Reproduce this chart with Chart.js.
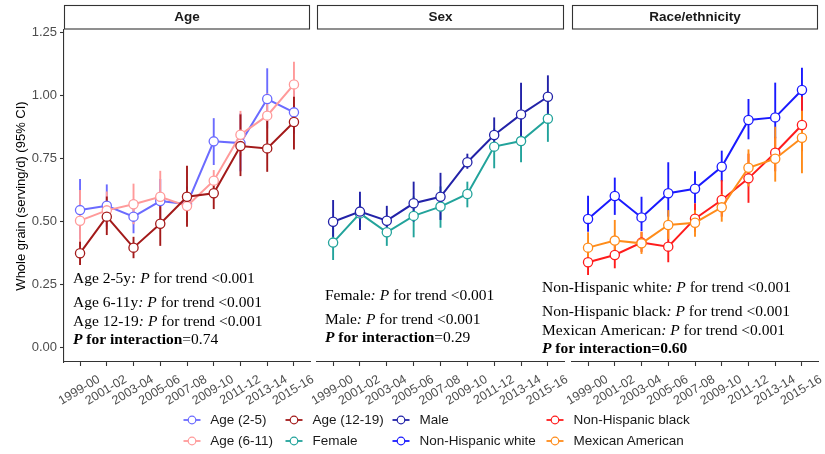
<!DOCTYPE html>
<html>
<head>
<meta charset="utf-8">
<script src="https://cdn.jsdelivr.net/npm/chart.js@4/dist/chart.umd.min.js"></script>
<style>
  html, body { margin: 0; padding: 0; background: #fff; }
  #wrap { position: relative; width: 825px; height: 454px; overflow: hidden; background: #fff; }
  #wrap canvas { position: absolute; left: 0; top: 0; }
  .lg { position: absolute; font: 13.5px "Liberation Sans", Arial, sans-serif; color: #1a1a1a;
        white-space: nowrap; line-height: 16px; height: 16px; }
  .sym { position: absolute; }
</style>
</head>
<body>
<div id="wrap">
  <canvas id="c1" width="825" height="454"></canvas>
  <canvas id="c2" width="825" height="454"></canvas>
  <canvas id="c3" width="825" height="454"></canvas>
  <div id="legend"></div>
</div>
<script>
// Survey cycles (x axis) and y axis ticks
const periods = ['1999-00', '2001-02', '2003-04', '2005-06', '2007-08', '2009-10', '2011-12', '2013-14', '2015-16'];
const yTicks = [0, 0.25, 0.5, 0.75, 1.0, 1.25];

// Whole grain intake, serving/d, with 95% CI — by age
const age2to5   = [0.546, 0.563, 0.520, 0.582, 0.570, 0.819, 0.812, 0.987, 0.934];
const age2to5Lo = [0.430, 0.480, 0.454, 0.490, 0.500, 0.725, 0.700, 0.870, 0.850];
const age2to5Hi = [0.669, 0.648, 0.590, 0.670, 0.640, 0.911, 0.930, 1.109, 1.020];

const age6to11   = [0.504, 0.545, 0.569, 0.599, 0.562, 0.663, 0.845, 0.921, 1.045];
const age6to11Lo = [0.400, 0.470, 0.490, 0.500, 0.500, 0.620, 0.760, 0.820, 0.960];
const age6to11Hi = [0.626, 0.620, 0.651, 0.702, 0.630, 0.705, 0.940, 1.010, 1.135];

const age12to19   = [0.375, 0.520, 0.397, 0.492, 0.599, 0.613, 0.800, 0.791, 0.896];
const age12to19Lo = [0.328, 0.447, 0.355, 0.404, 0.480, 0.550, 0.681, 0.698, 0.787];
const age12to19Hi = [0.420, 0.600, 0.440, 0.580, 0.722, 0.660, 0.926, 0.900, 0.996];

// By sex
const female   = [0.417, 0.533, 0.458, 0.523, 0.560, 0.610, 0.798, 0.820, 0.909];
const femaleLo = [0.348, 0.480, 0.404, 0.438, 0.476, 0.557, 0.712, 0.736, 0.817];
const femaleHi = [0.480, 0.580, 0.510, 0.600, 0.640, 0.659, 0.870, 0.900, 0.990];

const male   = [0.500, 0.540, 0.504, 0.573, 0.599, 0.736, 0.844, 0.926, 0.996];
const maleLo = [0.440, 0.467, 0.450, 0.500, 0.507, 0.710, 0.780, 0.800, 0.920];
const maleHi = [0.586, 0.619, 0.563, 0.659, 0.694, 0.770, 0.914, 1.052, 1.081];

// By race/ethnicity
const nhWhite   = [0.511, 0.602, 0.517, 0.613, 0.631, 0.718, 0.904, 0.914, 1.023];
const nhWhiteLo = [0.460, 0.527, 0.463, 0.520, 0.573, 0.660, 0.827, 0.831, 0.940];
const nhWhiteHi = [0.603, 0.675, 0.599, 0.736, 0.700, 0.782, 0.987, 1.052, 1.111];

const nhBlack   = [0.339, 0.368, 0.417, 0.401, 0.512, 0.586, 0.672, 0.774, 0.884];
const nhBlackLo = [0.288, 0.315, 0.380, 0.339, 0.460, 0.520, 0.575, 0.700, 0.780];
const nhBlackHi = [0.400, 0.420, 0.460, 0.470, 0.573, 0.665, 0.770, 0.837, 0.997];

const mexican   = [0.397, 0.425, 0.414, 0.487, 0.496, 0.557, 0.714, 0.750, 0.833];
const mexicanLo = [0.340, 0.360, 0.372, 0.430, 0.440, 0.500, 0.640, 0.659, 0.692];
const mexicanHi = [0.458, 0.507, 0.460, 0.546, 0.545, 0.610, 0.787, 0.877, 0.940];

// Trend test notes per panel
const ageNotes  = [['Age 2-5y', 'P for trend <0.001'], ['Age 6-11y', 'P for trend <0.001'], ['Age 12-19', 'P for trend <0.001']];
const ageInteraction = '=0.74';
const sexNotes  = [['Female', 'P for trend <0.001'], ['Male', 'P for trend <0.001']];
const sexInteraction = '=0.29';
const raceNotes = [['Non-Hispanic white', 'P for trend <0.001'], ['Non-Hispanic black', 'P for trend <0.001'], ['Mexican American', 'P for trend <0.001']];
const raceInteraction = '=0.60';

const SANS = '"Liberation Sans", Arial, sans-serif';
const SERIF = '"Liberation Serif", "Times New Roman", serif';

const panels = [
  {
    title: 'Age', left: 64, right: 310, showY: true,
    series: [
      { label: 'Age (2-5)',   color: '#6b6bff', mean: age2to5,   lo: age2to5Lo,   hi: age2to5Hi },
      { label: 'Age (6-11)',  color: '#ff9a9a', mean: age6to11,  lo: age6to11Lo,  hi: age6to11Hi },
      { label: 'Age (12-19)', color: '#a31a1a', mean: age12to19, lo: age12to19Lo, hi: age12to19Hi }
    ],
    notes: ageNotes, interaction: ageInteraction, boldValue: false,
    noteX: 9, baselines: [283, 307, 326, 344]
  },
  {
    title: 'Sex', left: 317, right: 564, showY: false,
    series: [
      { label: 'Female', color: '#22a39b', mean: female, lo: femaleLo, hi: femaleHi },
      { label: 'Male',   color: '#2222a8', mean: male,   lo: maleLo,   hi: maleHi }
    ],
    notes: sexNotes, interaction: sexInteraction, boldValue: false,
    noteX: 8, baselines: [300, 323.5, 342]
  },
  {
    title: 'Race/ethnicity', left: 572, right: 818, showY: false,
    series: [
      { label: 'Non-Hispanic white', color: '#1a1aff', mean: nhWhite, lo: nhWhiteLo, hi: nhWhiteHi },
      { label: 'Non-Hispanic black', color: '#ff1c1c', mean: nhBlack, lo: nhBlackLo, hi: nhBlackHi },
      { label: 'Mexican American',   color: '#ff8c1a', mean: mexican, lo: mexicanLo, hi: mexicanHi }
    ],
    notes: raceNotes, interaction: raceInteraction, boldValue: true,
    noteX: -30, baselines: [292, 316, 334.5, 353]
  }
];

// Vertical 95% CI bars, drawn under the lines and points
const errorBars = {
  id: 'errorBars',
  beforeDatasetsDraw(chart) {
    const { ctx } = chart;
    const xs = chart.scales.x, ys = chart.scales.y;
    ctx.save();
    ctx.lineWidth = 1.9;
    ctx.lineCap = 'butt';
    chart.data.datasets.forEach(ds => {
      ctx.strokeStyle = ds.borderColor;
      ds.ciLo.forEach((lo, i) => {
        const px = xs.getPixelForValue(i);
        ctx.beginPath();
        ctx.moveTo(px, ys.getPixelForValue(lo));
        ctx.lineTo(px, ys.getPixelForValue(ds.ciHi[i]));
        ctx.stroke();
      });
    });
    ctx.restore();
  }
};

// Facet strip above each panel
const strip = {
  id: 'strip',
  afterDraw(chart, args, opts) {
    const { ctx, chartArea } = chart;
    const l = chartArea.left, r = chartArea.right;
    ctx.save();
    ctx.fillStyle = '#fff';
    ctx.fillRect(l, 5, r - l, 24);
    ctx.strokeStyle = '#333';
    ctx.lineWidth = 1.1;
    ctx.strokeRect(Math.round(l) + 0.5, 5.5, Math.round(r - l) - 1, 23.5);
    ctx.fillStyle = '#1a1a1a';
    ctx.font = 'bold 13.5px ' + SANS;
    ctx.textAlign = 'center';
    ctx.textBaseline = 'middle';
    ctx.fillText(opts.text, (l + r) / 2, 17.5);
    ctx.restore();
  }
};

// Trend-test annotations with mixed italic / bold runs
const notes = {
  id: 'notes',
  afterDraw(chart, args, opts) {
    const { ctx, chartArea } = chart;
    const size = 15.5;
    const fonts = {
      n: size + 'px ' + SERIF,
      i: 'italic ' + size + 'px ' + SERIF,
      b: 'bold ' + size + 'px ' + SERIF,
      bi: 'italic bold ' + size + 'px ' + SERIF
    };
    const draw = (runs, x, y) => {
      runs.forEach(([t, f]) => {
        ctx.font = fonts[f];
        ctx.fillText(t, x, y);
        x += ctx.measureText(t).width;
      });
    };
    ctx.save();
    ctx.fillStyle = '#000';
    ctx.textBaseline = 'alphabetic';
    ctx.textAlign = 'left';
    const x0 = chartArea.left + opts.dx;
    opts.lines.forEach(([group, rest], k) => {
      draw([[group, 'n'], [': ', 'i'], ['P', 'i'], [rest.slice(1), 'n']], x0, opts.baselines[k]);
    });
    draw([['P', 'bi'], [' for interaction', 'b'], [opts.value, opts.boldValue ? 'b' : 'n']],
         x0, opts.baselines[opts.lines.length]);
    ctx.restore();
  }
};

function makeChart(id, p) {
  return new Chart(document.getElementById(id), {
    type: 'line',
    data: {
      datasets: p.series.map((s, k) => ({
        label: s.label,
        data: s.mean.map((v, i) => ({ x: i, y: v })),
        ciLo: s.lo,
        ciHi: s.hi,
        borderColor: s.color,
        backgroundColor: s.color,
        borderWidth: 2,
        tension: 0,
        pointRadius: 4.6,
        pointBorderWidth: 1.3,
        pointBackgroundColor: '#fff',
        pointBorderColor: s.color,
        order: p.series.length - k
      }))
    },
    options: {
      responsive: false,
      animation: false,
      events: [],
      layout: { padding: { left: p.showY ? 0 : p.left, right: 825 - p.right, top: 30, bottom: 0 } },
      plugins: {
        legend: { display: false },
        tooltip: { enabled: false },
        strip: { text: p.title },
        notes: { lines: p.notes, value: p.interaction, boldValue: p.boldValue, dx: p.noteX, baselines: p.baselines }
      },
      scales: {
        x: {
          type: 'linear',
          min: -0.6,
          max: 8.6,
          afterBuildTicks: s => { s.ticks = periods.map((_, i) => ({ value: i })); },
          afterFit: s => { s.height = 92; s.paddingLeft = 0; s.paddingRight = 0; },
          grid: { drawOnChartArea: false, drawTicks: true, tickLength: 4, tickWidth: 1.1, tickColor: '#333' },
          border: { display: true, color: '#333', width: 1.1 },
          ticks: {
            autoSkip: false,
            minRotation: 31,
            maxRotation: 31,
            labelOffset: 19,
            padding: 6,
            color: '#4d4d4d',
            font: { family: SANS, size: 12.5 },
            callback: v => periods[v] ?? ''
          }
        },
        y: {
          type: 'linear',
          display: p.showY,
          min: -0.057,
          max: 1.261,
          afterBuildTicks: s => { s.ticks = yTicks.map(v => ({ value: v })); },
          afterFit: s => { s.width = p.showY ? 64 : 0; },
          grid: { drawOnChartArea: false, drawTicks: true, tickLength: 4, tickWidth: 1.1, tickColor: '#333' },
          border: { display: true, color: '#333', width: 1.1 },
          ticks: {
            padding: 3,
            color: '#4d4d4d',
            font: { family: SANS, size: 13 },
            callback: v => v.toFixed(2)
          },
          title: {
            display: true,
            text: 'Whole grain (serving/d) (95% CI)',
            color: '#000',
            font: { family: SANS, size: 13 },
            padding: { top: 14, bottom: 0 }
          }
        }
      }
    },
    plugins: [errorBars, strip, notes]
  });
}

panels.forEach((p, k) => makeChart('c' + (k + 1), p));

// Legend: all groups in two rows, filled column by column
const allSeries = panels.flatMap(p => p.series);
const legendCols = [191.7, 294, 401, 555];
const legendRows = [420, 441];
const legend = document.getElementById('legend');
allSeries.forEach((s, k) => {
  const col = Math.floor(k / 2), row = k % 2;
  const cx = legendCols[col], cy = legendRows[row];
  const svg = document.createElementNS('http://www.w3.org/2000/svg', 'svg');
  svg.setAttribute('class', 'sym');
  svg.setAttribute('width', '20');
  svg.setAttribute('height', '12');
  svg.style.left = (cx - 10) + 'px';
  svg.style.top = (cy - 6) + 'px';
  svg.innerHTML =
    '<line x1="1.5" y1="6" x2="18.5" y2="6" stroke="' + s.color + '" stroke-width="1.8"/>' +
    '<circle cx="10" cy="6" r="3.8" fill="#fff" stroke="' + s.color + '" stroke-width="1.2"/>';
  legend.appendChild(svg);
  const t = document.createElement('div');
  t.className = 'lg';
  t.textContent = s.label;
  t.style.left = (cx + 18.5) + 'px';
  t.style.top = (cy - 8) + 'px';
  legend.appendChild(t);
});
</script>
</body>
</html>
